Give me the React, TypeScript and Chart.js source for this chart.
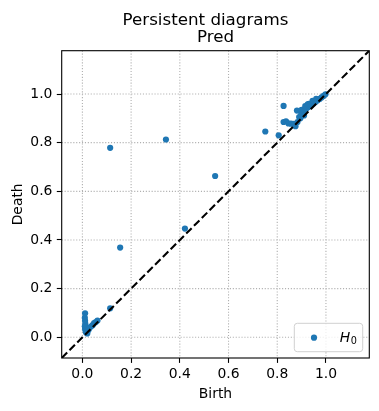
import React, { useEffect, useRef } from "react";
import { Chart, registerables } from "chart.js";

Chart.register(...registerables);

const SUPTITLE = "Persistent diagrams";
const TITLE = "Pred";
const X_LABEL = "Birth";
const Y_LABEL = "Death";
const LEGEND_LABEL = "H";
const LEGEND_SUB = "0";

const AXIS_MIN = -0.085;
const AXIS_MAX = 1.178;
const TICK_VALUES = [0.0, 0.2, 0.4, 0.6, 0.8, 1.0];

const births = [
  0.011, 0.010, 0.011, 0.012, 0.010, 0.011, 0.013, 0.015, 0.020, 0.028, 0.035, 0.042, 0.048, 0.055, 0.062, 0.018, 0.025, 0.114,
  0.114, 0.155, 0.343, 0.421, 0.545,
  0.751, 0.806, 0.826, 0.881, 0.826, 0.836, 0.846, 0.857, 0.867,
  0.875, 0.883, 0.890, 0.898, 0.905, 0.912, 0.920, 0.928, 0.935, 0.943, 0.950, 0.958, 0.966, 0.974, 0.982, 0.990, 0.998,
  0.900, 0.915, 0.930, 0.895, 0.910, 0.925, 0.945, 0.960,
];
const deaths = [
  0.099, 0.080, 0.068, 0.055, 0.045, 0.035, 0.027, 0.020, 0.016, 0.037, 0.044, 0.050, 0.058, 0.063, 0.069, 0.025, 0.030, 0.119,
  0.779, 0.369, 0.813, 0.447, 0.663,
  0.846, 0.830, 0.951, 0.932, 0.885, 0.888, 0.879, 0.878, 0.877,
  0.868, 0.885, 0.905, 0.915, 0.925, 0.935, 0.940, 0.947, 0.952, 0.958, 0.962, 0.968, 0.974, 0.980, 0.986, 0.992, 0.999,
  0.935, 0.950, 0.960, 0.900, 0.912, 0.958, 0.972, 0.980,
];

const FONT = "'DejaVu Sans', sans-serif";
const BLUE = "#1f77b4";

const decorPlugin = {
  id: "decor",
  beforeDatasetsDraw(chart: any) {
    const { ctx, chartArea: a, scales } = chart;
    ctx.save();
    ctx.strokeStyle = "#b0b0b0";
    ctx.lineWidth = 1.1;
    ctx.setLineDash([1.1, 1.8]);
    for (const t of scales.x.ticks) {
      const px = scales.x.getPixelForValue(t.value);
      ctx.beginPath();
      ctx.moveTo(px, a.top);
      ctx.lineTo(px, a.bottom);
      ctx.stroke();
    }
    for (const t of scales.y.ticks) {
      const py = scales.y.getPixelForValue(t.value);
      ctx.beginPath();
      ctx.moveTo(a.left, py);
      ctx.lineTo(a.right, py);
      ctx.stroke();
    }
    ctx.restore();
  },
  afterDatasetsDraw(chart: any) {
    const { ctx, chartArea: a } = chart;
    ctx.save();
    // spines
    ctx.strokeStyle = "#000";
    ctx.lineWidth = 1.1;
    ctx.setLineDash([]);
    ctx.strokeRect(a.left, a.top, a.right - a.left, a.bottom - a.top);

    // legend
    const w = 68.4, h = 28.4;
    const lx = a.right - 6.6 - w;
    const ly = a.bottom - 6.3 - h;
    const r = 3;
    ctx.beginPath();
    ctx.moveTo(lx + r, ly);
    ctx.lineTo(lx + w - r, ly);
    ctx.quadraticCurveTo(lx + w, ly, lx + w, ly + r);
    ctx.lineTo(lx + w, ly + h - r);
    ctx.quadraticCurveTo(lx + w, ly + h, lx + w - r, ly + h);
    ctx.lineTo(lx + r, ly + h);
    ctx.quadraticCurveTo(lx, ly + h, lx, ly + h - r);
    ctx.lineTo(lx, ly + r);
    ctx.quadraticCurveTo(lx, ly, lx + r, ly);
    ctx.closePath();
    ctx.fillStyle = "rgba(255,255,255,0.8)";
    ctx.fill();
    ctx.strokeStyle = "#d0d0d0";
    ctx.lineWidth = 1;
    ctx.stroke();

    ctx.beginPath();
    ctx.arc(lx + 19.7, ly + 14.4, 3.1, 0, Math.PI * 2);
    ctx.fillStyle = BLUE;
    ctx.fill();

    ctx.fillStyle = "#000";
    ctx.textBaseline = "alphabetic";
    ctx.textAlign = "left";
    ctx.font = `italic 13.9px ${FONT}`;
    ctx.fillText(LEGEND_LABEL, lx + 45.5, ly + 18.6);
    const hw = ctx.measureText(LEGEND_LABEL).width;
    ctx.font = `9.7px ${FONT}`;
    ctx.fillText(LEGEND_SUB, lx + 45.5 + hw + 0.5, ly + 21);
    ctx.restore();
  },
  afterDraw(chart: any) {
    const { ctx, chartArea: a } = chart;
    ctx.save();
    ctx.fillStyle = "#000";
    ctx.textAlign = "center";
    ctx.textBaseline = "alphabetic";
    ctx.font = `16.7px ${FONT}`;
    ctx.fillText(SUPTITLE, 205.5, 25);
    const cx = (a.left + a.right) / 2;
    ctx.fillText(TITLE, cx, a.top - 9);
    ctx.font = `13.9px ${FONT}`;
    ctx.fillText(X_LABEL, cx, a.bottom + 40);
    const cy = (a.top + a.bottom) / 2;
    ctx.translate(a.left - 40, cy);
    ctx.rotate(-Math.PI / 2);
    ctx.fillText(Y_LABEL, 0, 0);
    ctx.restore();
  },
};

export default function App() {
  const ref = useRef<HTMLCanvasElement | null>(null);
  useEffect(() => {
    if (!ref.current) return;
    const points = births.map((b, i) => ({ x: b, y: deaths[i] }));
    const diag = [
      { x: AXIS_MIN, y: AXIS_MIN },
      { x: AXIS_MAX, y: AXIS_MAX },
    ];
    const tickOpts = (pad: number) => ({
      color: "#000",
      padding: pad,
      font: { family: FONT, size: 13.9 },
      autoSkip: false,
      maxRotation: 0,
      callback: (v: any) => Number(v).toFixed(1),
    });
    const chart = new Chart(ref.current, {
      type: "scatter",
      data: {
        datasets: [
          {
            type: "line",
            label: "diag",
            data: diag,
            borderColor: "#000",
            borderWidth: 2.1,
            borderDash: [7.7, 3.3],
            pointRadius: 0,
            fill: false,
            order: 0,
          } as any,
          {
            label: "H0",
            data: points,
            backgroundColor: BLUE,
            borderColor: BLUE,
            borderWidth: 0,
            pointRadius: 3.1,
            pointHoverRadius: 3.1,
            order: 1,
          },
        ],
      },
      plugins: [decorPlugin],
      options: {
        animation: false,
        responsive: false,
        maintainAspectRatio: false,
        devicePixelRatio: 1,
        layout: { padding: { left: 0, right: 9.7, top: 50.7, bottom: 0 } },
        plugins: { legend: { display: false }, tooltip: { enabled: false }, title: { display: false } },
        scales: {
          x: {
            type: "linear",
            min: AXIS_MIN,
            max: AXIS_MAX,
            afterBuildTicks: (s: any) => {
              s.ticks = TICK_VALUES.map((v) => ({ value: v }));
            },
            afterFit: (s: any) => {
              s.height = 53;
            },
            grid: { drawOnChartArea: false, drawTicks: true, tickLength: 4.9, color: "#000", tickWidth: 1.1 },
            border: { display: false },
            ticks: tickOpts(3),
          },
          y: {
            type: "linear",
            min: AXIS_MIN,
            max: AXIS_MAX,
            afterBuildTicks: (s: any) => {
              s.ticks = TICK_VALUES.map((v) => ({ value: v }));
            },
            afterFit: (s: any) => {
              s.width = 61.7;
            },
            grid: { drawOnChartArea: false, drawTicks: true, tickLength: 4.9, color: "#000", tickWidth: 1.1 },
            border: { display: false },
            ticks: tickOpts(4.4),
          },
        },
      } as any,
    });
    return () => chart.destroy();
  }, []);
  return (
    <div style={{ position: "fixed", left: 0, top: 0, width: 379, height: 411, background: "#fff" }}>
      <canvas ref={ref} width={379} height={411} style={{ width: 379, height: 411, display: "block" }} />
    </div>
  );
}
